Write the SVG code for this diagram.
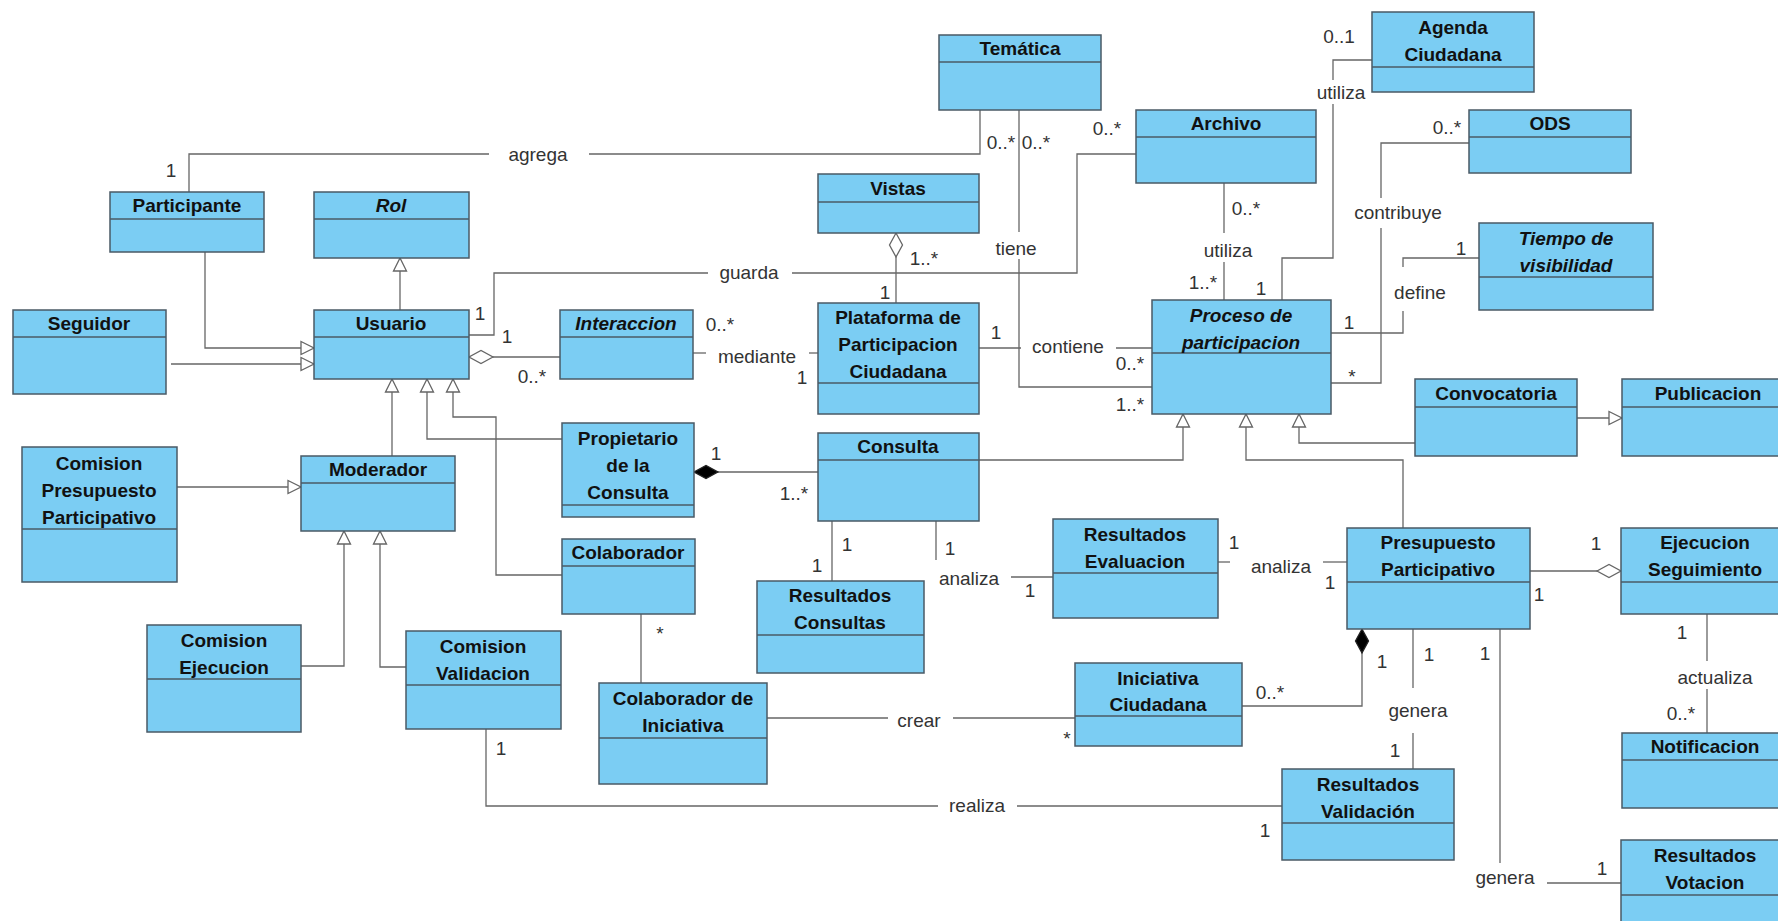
<svg xmlns="http://www.w3.org/2000/svg" width="1778" height="921" viewBox="0 0 1778 921">
<style>
.box{fill:#7BCDF3;stroke:#4A5A66;stroke-width:1.5}
.dv{stroke:#4A5A66;stroke-width:1.5}
.t{font-family:"Liberation Sans",Arial,sans-serif;font-size:19px;font-weight:bold;fill:#111;text-anchor:middle}
.ti{font-style:italic}
.c{fill:none;stroke:#666;stroke-width:1.3}
.l{font-family:"Liberation Sans",Arial,sans-serif;font-size:19px;fill:#333;text-anchor:middle}
.gen{marker-end:url(#tri)}
.agg{marker-end:url(#dia)}
.cmp{marker-end:url(#fdia)}
</style>
<defs>
<marker id="tri" markerUnits="userSpaceOnUse" markerWidth="16" markerHeight="16" refX="13" refY="6.5" orient="auto" overflow="visible"><path d="M0,0 L13,6.5 L0,13 Z" fill="#fff" stroke="#666" stroke-width="1.3"/></marker>
<marker id="dia" markerUnits="userSpaceOnUse" markerWidth="26" markerHeight="16" refX="24" refY="6.5" orient="auto" overflow="visible"><path d="M0,6.5 L12,0 L24,6.5 L12,13 Z" fill="#fff" stroke="#666" stroke-width="1.3"/></marker>
<marker id="fdia" markerUnits="userSpaceOnUse" markerWidth="26" markerHeight="16" refX="24" refY="6.5" orient="auto" overflow="visible"><path d="M0,6.5 L12,0 L24,6.5 L12,13 Z" fill="#000" stroke="#222" stroke-width="1.3"/></marker>
</defs>
<rect x="0" y="0" width="1778" height="921" fill="#fff"/>

<g id="connectors">
<!-- agrega -->
<polyline class="c" points="189,192 189,154 489,154"/>
<polyline class="c" points="589,154 980,154 980,110"/>
<text class="l" x="538" y="161">agrega</text>
<text class="l" x="171" y="177">1</text>
<text class="l" x="1001" y="149">0..*</text>
<!-- tiene -->
<polyline class="c" points="1019,110 1019,232"/>
<polyline class="c" points="1019,259 1019,387 1152,387"/>
<text class="l" x="1016" y="255">tiene</text>
<text class="l" x="1036" y="149">0..*</text>
<text class="l" x="1130" y="411">1..*</text>
<!-- guarda -->
<polyline class="c" points="469,335 494,335 494,273 708,273"/>
<polyline class="c" points="792,273 1077,273 1077,154 1136,154"/>
<text class="l" x="749" y="279">guarda</text>
<text class="l" x="480" y="320">1</text>
<text class="l" x="1107" y="135">0..*</text>
<!-- Vistas - Plataforma -->
<polyline class="c agg" points="896,303 896,233"/>
<text class="l" x="924" y="265">1..*</text>
<text class="l" x="885" y="299">1</text>
<!-- Usuario - Interaccion -->
<polyline class="c agg" points="560,357 469,357"/>
<text class="l" x="507" y="343">1</text>
<text class="l" x="532" y="383">0..*</text>
<!-- mediante -->
<polyline class="c" points="693,353 706,353"/>
<polyline class="c" points="809,353 818,353"/>
<text class="l" x="757" y="363">mediante</text>
<text class="l" x="720" y="331">0..*</text>
<text class="l" x="802" y="384">1</text>
<!-- contiene -->
<polyline class="c" points="979,348 1021,348"/>
<polyline class="c" points="1116,348 1152,348"/>
<text class="l" x="1068" y="353">contiene</text>
<text class="l" x="996" y="339">1</text>
<text class="l" x="1130" y="370">0..*</text>
<!-- Archivo utiliza -->
<polyline class="c" points="1224,183 1224,233"/>
<polyline class="c" points="1224,262 1224,300"/>
<text class="l" x="1228" y="257">utiliza</text>
<text class="l" x="1246" y="215">0..*</text>
<text class="l" x="1203" y="289">1..*</text>
<!-- Agenda utiliza -->
<polyline class="c" points="1372,60 1333,60 1333,80"/>
<polyline class="c" points="1333,104 1333,258 1282,258 1282,300"/>
<text class="l" x="1341" y="99">utiliza</text>
<text class="l" x="1339" y="43">0..1</text>
<text class="l" x="1261" y="295">1</text>
<!-- contribuye -->
<polyline class="c" points="1469,143 1381,143 1381,198"/>
<polyline class="c" points="1381,228 1381,383 1331,383"/>
<text class="l" x="1398" y="219">contribuye</text>
<text class="l" x="1447" y="134">0..*</text>
<text class="l" x="1352" y="383">*</text>
<!-- define -->
<polyline class="c" points="1479,258 1403,258 1403,267"/>
<polyline class="c" points="1403,311 1403,333 1331,333"/>
<text class="l" x="1420" y="299">define</text>
<text class="l" x="1461" y="255">1</text>
<text class="l" x="1349" y="329">1</text>
<!-- generalizations to Usuario -->
<polyline class="c gen" points="205,252 205,348 314,348"/>
<polyline class="c gen" points="171,364 314,364"/>
<polyline class="c gen" points="400,310 400,258"/>
<polyline class="c gen" points="392,456 392,379"/>
<polyline class="c gen" points="562,439 427,439 427,379"/>
<polyline class="c gen" points="562,575 496,575 496,417 453,417 453,379"/>
<!-- generalizations to Moderador -->
<polyline class="c gen" points="177,487 301,487"/>
<polyline class="c gen" points="301,666 344,666 344,531"/>
<polyline class="c gen" points="406,667 380,667 380,531"/>
<!-- generalizations to Proceso -->
<polyline class="c gen" points="979,460 1183,460 1183,414"/>
<polyline class="c gen" points="1403,528 1403,460 1246,460 1246,414"/>
<polyline class="c gen" points="1415,443 1299,443 1299,414"/>
<polyline class="c gen" points="1577,418 1622,418"/>
<!-- Propietario - Consulta -->
<polyline class="c cmp" points="818,472 694,472"/>
<text class="l" x="716" y="460">1</text>
<text class="l" x="794" y="500">1..*</text>
<!-- Consulta - Resultados Consultas -->
<polyline class="c" points="832,521 832,581"/>
<text class="l" x="847" y="551">1</text>
<text class="l" x="817" y="572">1</text>
<!-- Consulta analiza Resultados Evaluacion -->
<polyline class="c" points="936,521 936,560"/>
<polyline class="c" points="1011,577 1053,577"/>
<text class="l" x="969" y="585">analiza</text>
<text class="l" x="950" y="555">1</text>
<text class="l" x="1030" y="597">1</text>
<!-- Resultados Evaluacion analiza Presupuesto -->
<polyline class="c" points="1218,562 1230,562"/>
<polyline class="c" points="1323,562 1347,562"/>
<text class="l" x="1281" y="573">analiza</text>
<text class="l" x="1234" y="549">1</text>
<text class="l" x="1330" y="589">1</text>
<!-- Presupuesto - Ejecucion -->
<polyline class="c agg" points="1530,571 1621,571"/>
<text class="l" x="1596" y="550">1</text>
<text class="l" x="1539" y="601">1</text>
<!-- actualiza -->
<polyline class="c" points="1707,614 1707,661"/>
<polyline class="c" points="1707,689 1707,733"/>
<text class="l" x="1715" y="684">actualiza</text>
<text class="l" x="1682" y="639">1</text>
<text class="l" x="1681" y="720">0..*</text>
<!-- Presupuesto - Iniciativa -->
<polyline class="c cmp" points="1242,706 1362,706 1362,629"/>
<text class="l" x="1270" y="699">0..*</text>
<text class="l" x="1382" y="668">1</text>
<!-- genera Resultados Validacion -->
<polyline class="c" points="1413,629 1413,688"/>
<polyline class="c" points="1413,733 1413,769"/>
<text class="l" x="1418" y="717">genera</text>
<text class="l" x="1429" y="661">1</text>
<text class="l" x="1395" y="757">1</text>
<!-- genera Resultados Votacion -->
<polyline class="c" points="1500,629 1500,863"/>
<polyline class="c" points="1547,883 1621,883"/>
<text class="l" x="1505" y="884">genera</text>
<text class="l" x="1485" y="660">1</text>
<text class="l" x="1602" y="875">1</text>
<!-- realiza -->
<polyline class="c" points="486,729 486,806 938,806"/>
<polyline class="c" points="1017,806 1282,806"/>
<text class="l" x="977" y="812">realiza</text>
<text class="l" x="501" y="755">1</text>
<text class="l" x="1265" y="837">1</text>
<!-- crear -->
<polyline class="c" points="767,718 888,718"/>
<polyline class="c" points="953,718 1075,718"/>
<text class="l" x="919" y="727">crear</text>
<text class="l" x="1067" y="745">*</text>
<!-- Colaborador - Colaborador de Iniciativa -->
<polyline class="c" points="641,614 641,683"/>
<text class="l" x="660" y="640">*</text>
</g>

<g id="n-tematica"><rect class="box" x="939" y="35" width="162" height="75"/><line class="dv" x1="939" y1="62" x2="1101" y2="62"/><text class="t" x="1020" y="55">Temática</text></g>
<g id="n-agenda"><rect class="box" x="1372" y="12" width="162" height="80"/><line class="dv" x1="1372" y1="67" x2="1534" y2="67"/><text class="t" x="1453" y="34">Agenda</text><text class="t" x="1453" y="61">Ciudadana</text></g>
<g id="n-archivo"><rect class="box" x="1136" y="110" width="180" height="73"/><line class="dv" x1="1136" y1="137" x2="1316" y2="137"/><text class="t" x="1226" y="130">Archivo</text></g>
<g id="n-ods"><rect class="box" x="1469" y="110" width="162" height="63"/><line class="dv" x1="1469" y1="137" x2="1631" y2="137"/><text class="t" x="1550" y="130">ODS</text></g>
<g id="n-participante"><rect class="box" x="110" y="192" width="154" height="60"/><line class="dv" x1="110" y1="219" x2="264" y2="219"/><text class="t" x="187" y="212">Participante</text></g>
<g id="n-rol"><rect class="box" x="314" y="192" width="155" height="66"/><line class="dv" x1="314" y1="219" x2="469" y2="219"/><text class="t ti" x="391" y="212">Rol</text></g>
<g id="n-vistas"><rect class="box" x="818" y="174" width="161" height="59"/><line class="dv" x1="818" y1="202" x2="979" y2="202"/><text class="t" x="898" y="195">Vistas</text></g>
<g id="n-tiempo"><rect class="box" x="1479" y="223" width="174" height="87"/><line class="dv" x1="1479" y1="277" x2="1653" y2="277"/><text class="t ti" x="1566" y="245">Tiempo de</text><text class="t ti" x="1566" y="272">visibilidad</text></g>
<g id="n-seguidor"><rect class="box" x="13" y="310" width="153" height="84"/><line class="dv" x1="13" y1="337" x2="166" y2="337"/><text class="t" x="89" y="330">Seguidor</text></g>
<g id="n-usuario"><rect class="box" x="314" y="310" width="155" height="69"/><line class="dv" x1="314" y1="337" x2="469" y2="337"/><text class="t" x="391" y="330">Usuario</text></g>
<g id="n-interaccion"><rect class="box" x="560" y="310" width="133" height="69"/><line class="dv" x1="560" y1="337" x2="693" y2="337"/><text class="t ti" x="626" y="330">Interaccion</text></g>
<g id="n-plataforma"><rect class="box" x="818" y="303" width="161" height="111"/><line class="dv" x1="818" y1="383" x2="979" y2="383"/><text class="t" x="898" y="324">Plataforma de</text><text class="t" x="898" y="351">Participacion</text><text class="t" x="898" y="378">Ciudadana</text></g>
<g id="n-proceso"><rect class="box" x="1152" y="300" width="179" height="114"/><line class="dv" x1="1152" y1="353" x2="1331" y2="353"/><text class="t ti" x="1241" y="322">Proceso de</text><text class="t ti" x="1241" y="349">participacion</text></g>
<g id="n-convocatoria"><rect class="box" x="1415" y="379" width="162" height="77"/><line class="dv" x1="1415" y1="407" x2="1577" y2="407"/><text class="t" x="1496" y="400">Convocatoria</text></g>
<g id="n-publicacion"><rect class="box" x="1622" y="379" width="172" height="77"/><line class="dv" x1="1622" y1="407" x2="1794" y2="407"/><text class="t" x="1708" y="400">Publicacion</text></g>
<g id="n-cpp"><rect class="box" x="22" y="447" width="155" height="135"/><line class="dv" x1="22" y1="529" x2="177" y2="529"/><text class="t" x="99" y="470">Comision</text><text class="t" x="99" y="497">Presupuesto</text><text class="t" x="99" y="524">Participativo</text></g>
<g id="n-moderador"><rect class="box" x="301" y="456" width="154" height="75"/><line class="dv" x1="301" y1="483" x2="455" y2="483"/><text class="t" x="378" y="476">Moderador</text></g>
<g id="n-propietario"><rect class="box" x="562" y="423" width="132" height="94"/><line class="dv" x1="562" y1="505" x2="694" y2="505"/><text class="t" x="628" y="445">Propietario</text><text class="t" x="628" y="472">de la</text><text class="t" x="628" y="499">Consulta</text></g>
<g id="n-consulta"><rect class="box" x="818" y="433" width="161" height="88"/><line class="dv" x1="818" y1="460" x2="979" y2="460"/><text class="t" x="898" y="453">Consulta</text></g>
<g id="n-reseval"><rect class="box" x="1053" y="519" width="165" height="99"/><line class="dv" x1="1053" y1="573" x2="1218" y2="573"/><text class="t" x="1135" y="541">Resultados</text><text class="t" x="1135" y="568">Evaluacion</text></g>
<g id="n-presupuesto"><rect class="box" x="1347" y="528" width="183" height="101"/><line class="dv" x1="1347" y1="582" x2="1530" y2="582"/><text class="t" x="1438" y="549">Presupuesto</text><text class="t" x="1438" y="576">Participativo</text></g>
<g id="n-ejecucion"><rect class="box" x="1621" y="528" width="168" height="86"/><line class="dv" x1="1621" y1="582" x2="1789" y2="582"/><text class="t" x="1705" y="549">Ejecucion</text><text class="t" x="1705" y="576">Seguimiento</text></g>
<g id="n-colaborador"><rect class="box" x="562" y="539" width="133" height="75"/><line class="dv" x1="562" y1="566" x2="695" y2="566"/><text class="t" x="628" y="559">Colaborador</text></g>
<g id="n-rescons"><rect class="box" x="757" y="581" width="167" height="92"/><line class="dv" x1="757" y1="635" x2="924" y2="635"/><text class="t" x="840" y="602">Resultados</text><text class="t" x="840" y="629">Consultas</text></g>
<g id="n-comejec"><rect class="box" x="147" y="625" width="154" height="107"/><line class="dv" x1="147" y1="679" x2="301" y2="679"/><text class="t" x="224" y="647">Comision</text><text class="t" x="224" y="674">Ejecucion</text></g>
<g id="n-comval"><rect class="box" x="406" y="631" width="155" height="98"/><line class="dv" x1="406" y1="685" x2="561" y2="685"/><text class="t" x="483" y="653">Comision</text><text class="t" x="483" y="680">Validacion</text></g>
<g id="n-colabini"><rect class="box" x="599" y="683" width="168" height="101"/><line class="dv" x1="599" y1="738" x2="767" y2="738"/><text class="t" x="683" y="705">Colaborador de</text><text class="t" x="683" y="732">Iniciativa</text></g>
<g id="n-iniciativa"><rect class="box" x="1075" y="663" width="167" height="83"/><line class="dv" x1="1075" y1="716" x2="1242" y2="716"/><text class="t" x="1158" y="685">Iniciativa</text><text class="t" x="1158" y="711">Ciudadana</text></g>
<g id="n-notificacion"><rect class="box" x="1622" y="733" width="166" height="75"/><line class="dv" x1="1622" y1="760" x2="1788" y2="760"/><text class="t" x="1705" y="753">Notificacion</text></g>
<g id="n-resval"><rect class="box" x="1282" y="769" width="172" height="91"/><line class="dv" x1="1282" y1="823" x2="1454" y2="823"/><text class="t" x="1368" y="791">Resultados</text><text class="t" x="1368" y="818">Validación</text></g>
<g id="n-resvot"><rect class="box" x="1621" y="840" width="168" height="100"/><line class="dv" x1="1621" y1="895" x2="1789" y2="895"/><text class="t" x="1705" y="862">Resultados</text><text class="t" x="1705" y="889">Votacion</text></g>
</svg>
